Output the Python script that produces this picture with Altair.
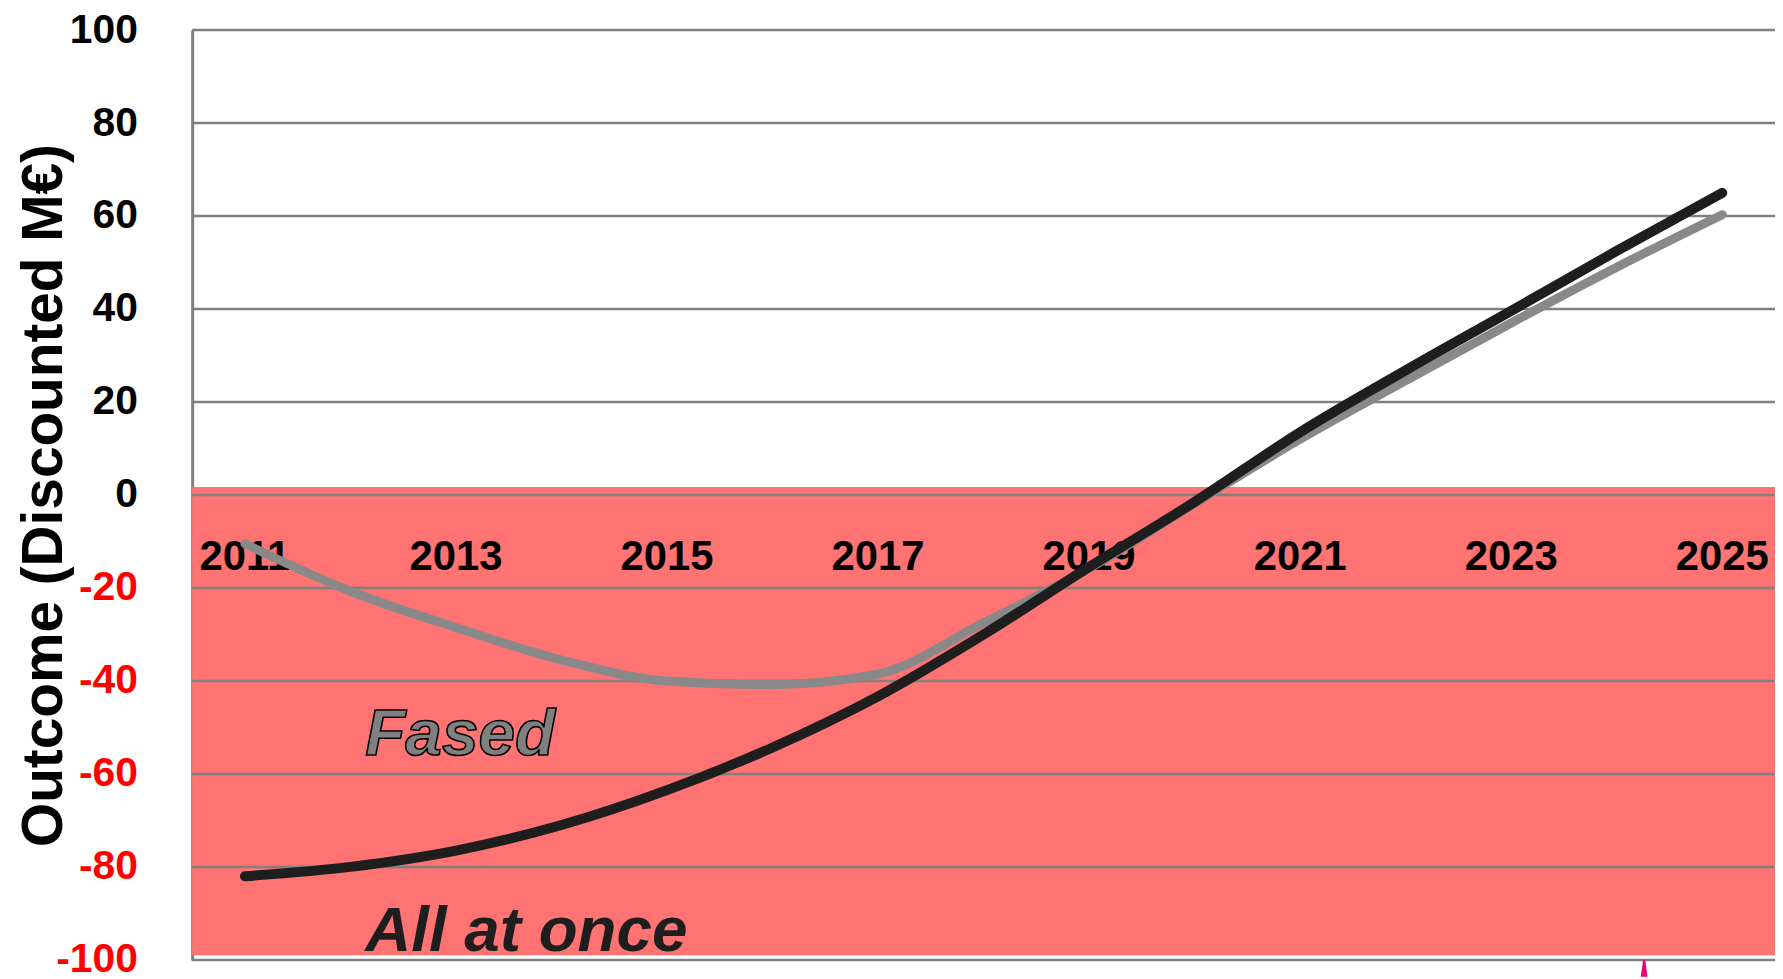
import altair as alt
import pandas as pd

# ---- data ----
years = list(range(2011, 2026))
all_at_once = [-82, -80, -76.5, -71, -63.5, -54.3, -43.3, -30, -15.5, -1.5, 13.5, 26.8, 39.6, 52.5, 65]
fased = [-10.5, -20.7, -28.5, -35.5, -40, -40.8, -38.5, -27.5, -15.8, -1.8, 12, 24.6, 37, 49, 60.3]

x_ticks = [2011, 2013, 2015, 2017, 2019, 2021, 2023, 2025]
y_ticks = [-100, -80, -60, -40, -20, 0, 20, 40, 60, 80, 100]
x_label_level = -13.3  # the year labels sit just under the zero line

zone_top = [1.7]
zone_bottom = [-99]

label_text = ["Fased", "All at once"]
label_year = [2012.14, 2012.14]
label_value = [-56, -98]

marker_year = [2024.26]
marker_value = [-101.8]

W, H = 1590, 934
FONT = "Liberation Sans"

xscale = alt.Scale(domain=[2010.5, 2025.5], nice=False, zero=False)
yscale = alt.Scale(domain=[-100, 100], nice=False, zero=False)

xaxis = alt.Axis(values=x_ticks, labels=False, domain=False, ticks=False, grid=False, title=None)
yaxis = alt.Axis(values=y_ticks, labelExpr="'' + datum.value", grid=False, ticks=False, domain=True,
                 domainColor="#808080", domainWidth=3,
                 labelFont=FONT, labelFontSize=41, labelFontWeight="bold",
                 labelColor={"expr": "datum.value < 0 ? '#FF0000' : '#000000'"},
                 labelPadding=55,
                 title="Outcome (Discounted M€)", titleFont=FONT, titleFontSize=57,
                 titleFontWeight="bold", titleColor="#000000",
                 titleX=-148, titleY=467, titleBaseline="middle", titleAngle=270)

X = lambda: alt.X("year:Q", scale=xscale, axis=xaxis)
Y = lambda: alt.Y("value:Q", scale=yscale, axis=yaxis)

zone_df = pd.DataFrame({"value": zone_top, "value2": zone_bottom})
grid_df = pd.DataFrame({"value": y_ticks})
xlab_df = pd.DataFrame({"year": x_ticks, "value": [x_label_level] * len(x_ticks),
                        "t": [str(v) for v in x_ticks]})
fased_df = pd.DataFrame({"year": years, "value": fased})
all_df = pd.DataFrame({"year": years, "value": all_at_once})
fased_lab = pd.DataFrame({"year": label_year[:1], "value": label_value[:1], "t": label_text[:1]})
all_lab = pd.DataFrame({"year": label_year[1:], "value": label_value[1:], "t": label_text[1:]})
marker_df = pd.DataFrame({"year": marker_year, "value": marker_value})

zone = alt.Chart(zone_df).mark_rect(color="#FF7373").encode(
    x=alt.value(0), x2=alt.value(W), y=Y(), y2="value2:Q")

grid = alt.Chart(grid_df).mark_rule(color="#808080", strokeWidth=2.5).encode(
    x=alt.value(0), x2=alt.value(W), y=Y())

xlabels = alt.Chart(xlab_df).mark_text(
    align="center", baseline="middle", font=FONT, fontSize=42, fontWeight="bold",
    color="#000000").encode(x=X(), y=Y(), text="t:N")

line_fased = alt.Chart(fased_df).mark_line(
    color="#898989", strokeWidth=9, interpolate="monotone", strokeCap="round").encode(x=X(), y=Y())
line_all = alt.Chart(all_df).mark_line(
    color="#1E1E1E", strokeWidth=10, interpolate="monotone", strokeCap="round").encode(x=X(), y=Y())

text_fased = alt.Chart(fased_lab).mark_text(
    align="left", baseline="alphabetic", font=FONT, fontSize=66, fontWeight="bold",
    fontStyle="italic", color="#808080", stroke="#000000", strokeWidth=1.6).encode(
    x=X(), y=Y(), text="t:N")
text_all = alt.Chart(all_lab).mark_text(
    align="left", baseline="alphabetic", font=FONT, fontSize=64, fontWeight="bold",
    fontStyle="italic", color="#1E1E1E").encode(x=X(), y=Y(), text="t:N")

marker = alt.Chart(marker_df).mark_point(
    shape="M-0.12,-1L0.12,-1L0.4,1L-0.4,1Z", size=289, filled=True,
    color="#E6007E", opacity=1).encode(x=X(), y=Y())

chart = alt.layer(zone, grid, xlabels, line_fased, line_all, text_fased, text_all, marker).properties(
    width=W, height=H,
    autosize=alt.AutoSizeParams(type="none"),
    padding={"left": 185, "top": 20, "right": 0, "bottom": 17},
).configure_view(stroke=None).configure(background="#FFFFFF")

chart.save("out.html", embed_options={"renderer": "svg", "actions": False})
